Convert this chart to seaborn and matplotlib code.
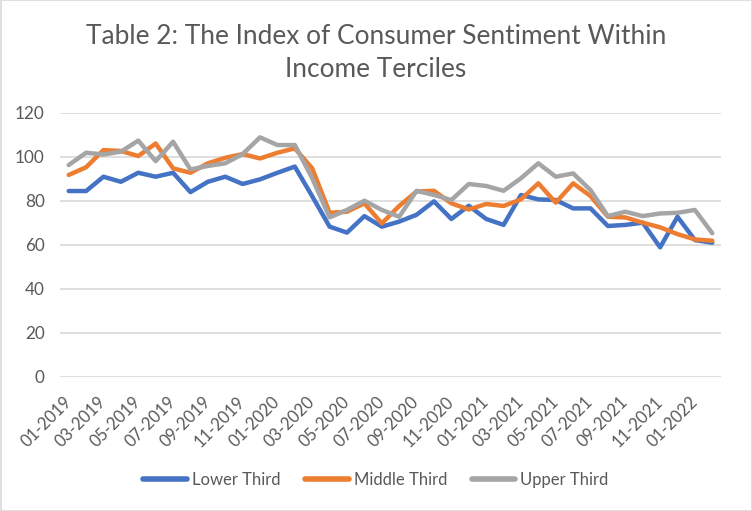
import pandas as pd
import numpy as np
import matplotlib
matplotlib.use('Agg')
import matplotlib.pyplot as plt
import seaborn as sns
from matplotlib.patches import Rectangle

# Monthly index values, 01-2019 .. 02-2022
months = list(pd.date_range('2019-01-01', periods=38, freq='MS').strftime('%m-%Y'))

lower_third = [84.4, 84.4, 90.9, 88.6, 92.7, 90.9, 92.7, 83.9, 88.6, 90.9,
               87.6, 89.7, 92.7, 95.5, 82.0, 68.2, 65.5, 73.0, 68.2, 70.5,
               73.6, 79.7, 71.7, 77.7, 71.7, 69.0, 82.6, 80.6, 80.3, 76.5,
               76.5, 68.5, 69.0, 70.0, 58.8, 72.7, 62.1, 60.9]
middle_third = [91.7, 95.2, 103.0, 102.6, 100.3, 106.0, 94.7, 92.7, 97.0, 99.5,
                101.2, 99.2, 101.8, 103.8, 94.7, 74.5, 75.0, 78.8, 69.7, 77.6,
                84.2, 84.5, 78.8, 76.0, 78.5, 77.6, 80.6, 87.9, 79.1, 87.9,
                82.1, 72.7, 72.4, 70.0, 67.9, 64.8, 62.4, 61.8]
upper_third = [96.2, 101.8, 101.0, 102.3, 107.3, 98.0, 106.8, 94.2, 95.8, 97.0,
               101.2, 108.8, 105.3, 105.3, 90.2, 72.4, 75.8, 80.0, 75.8, 72.7,
               84.5, 82.6, 80.3, 87.6, 86.7, 84.5, 90.2, 97.0, 90.9, 92.4,
               84.8, 73.0, 75.0, 73.0, 74.2, 74.5, 75.8, 65.2]

series_names = ['Lower Third', 'Middle Third', 'Upper Third']
colors = ['#4472C4', '#ED7D31', '#A5A5A5']

df = pd.DataFrame({
    'pos': list(range(len(months))) * 3,
    'value': lower_third + middle_third + upper_third,
    'series': np.repeat(series_names, len(months)),
})

sns.set_theme(style='white')
plt.rcParams['font.family'] = ['Lato', 'DejaVu Sans']
text_color = '#595959'

fig = plt.figure(figsize=(7.52, 5.11), dpi=100)
ax = fig.add_axes([60 / 752, 1 - 376.7 / 511, 661 / 752, 264 / 511])

sns.lineplot(data=df, x='pos', y='value', hue='series', palette=colors,
             linewidth=3.2, sort=False, ax=ax, legend=False)

ax.set_xlim(-0.5, len(months) - 0.5)
ax.set_ylim(0, 120)
ax.set_yticks(range(0, 121, 20))
ax.yaxis.grid(True, color='#D9D9D9', linewidth=1.2)
ax.xaxis.grid(False)
for s in ax.spines.values():
    s.set_visible(False)
ax.set_xlabel('')
ax.set_ylabel('')

tick_pos = list(range(0, len(months), 2))
ax.set_xticks(tick_pos)
ax.set_xticklabels([months[i] for i in tick_pos], rotation=45, ha='right',
                   rotation_mode='anchor', va='center')
ax.tick_params(axis='x', length=0, pad=16, labelsize=12, labelcolor=text_color)
ax.tick_params(axis='y', length=0, pad=11, labelsize=12.3, labelcolor=text_color)

fig.text(0.5, 1 - 53 / 511, 'Table 2: The Index of Consumer Sentiment Within\nIncome Terciles',
         ha='center', va='center', fontsize=18.9, color=text_color, linespacing=1.4)

handles = [plt.Line2D([], [], color=c, linewidth=4) for c in colors]
fig.legend(handles, series_names, loc='center', bbox_to_anchor=(0.5, 1 - 480 / 511),
           ncol=3, frameon=False, fontsize=12, handlelength=2.6, handletextpad=0.3,
           columnspacing=1.5, labelcolor=text_color)

fig.patches.append(Rectangle((0.5 / 752, 0.5 / 511), 1 - 1 / 752, 1 - 1 / 511,
                             transform=fig.transFigure, fill=False,
                             edgecolor='#D9D9D9', linewidth=1.2))

fig.savefig('out.png', dpi=100)
